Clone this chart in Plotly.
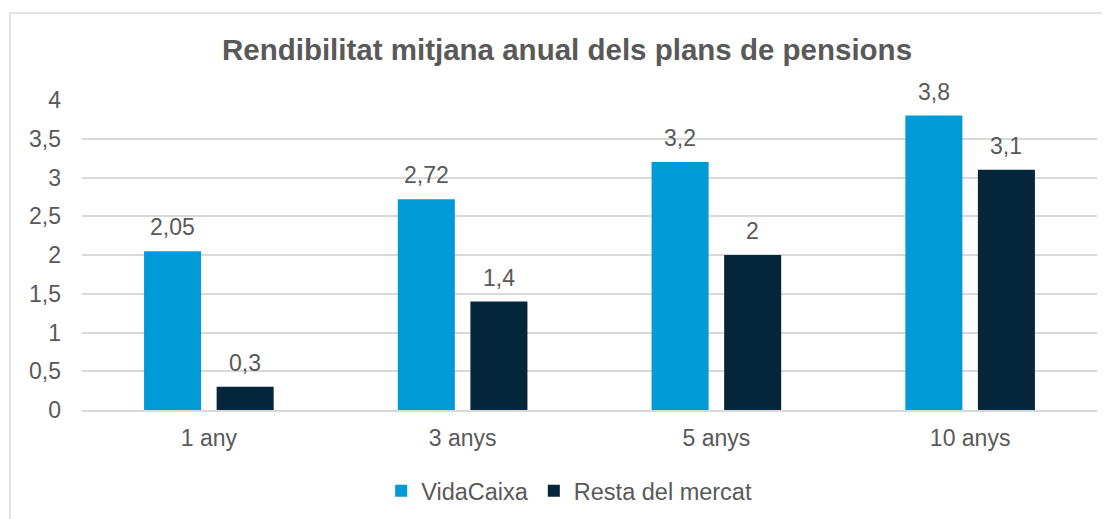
import plotly.graph_objects as go

categories = ["1 any", "3 anys", "5 anys", "10 anys"]
vidacaixa = [2.05, 2.72, 3.2, 3.8]
resta_mercat = [0.3, 1.4, 2.0, 3.1]
series_names = ["VidaCaixa", "Resta del mercat"]
title_text = "Rendibilitat mitjana anual dels plans de pensions"
y_ticks = [0, 0.5, 1, 1.5, 2, 2.5, 3, 3.5, 4]

C_VC = "#009AD9"
C_RM = "#05263B"
TXT = "#595959"
GRID = "#D9D9D9"
FONT = "Liberation Sans, Arial, sans-serif"

# page body has an 8px default margin; figure is sized/offset to compensate
W, H = 1102, 511
L, R, T, B = 74, 13, 92, 109
PW, PH = W - L - R, H - T - B


def fmt(v):
    s = ("%g" % v)
    return s.replace(".", ",")


fig = go.Figure()
fig.add_trace(go.Bar(x=categories, y=vidacaixa, name=series_names[0],
                     marker=dict(color=C_VC, line=dict(width=0))))
fig.add_trace(go.Bar(x=categories, y=resta_mercat, name=series_names[1],
                     marker=dict(color=C_RM, line=dict(width=0))))

annotations = []
for vals, shift in ((vidacaixa, -36), (resta_mercat, 36)):
    for c, v in zip(categories, vals):
        annotations.append(dict(x=c, y=v, xref="x", yref="y", text=fmt(v),
                                showarrow=False, xshift=shift, yshift=24,
                                yanchor="middle", xanchor="center",
                                font=dict(family=FONT, size=23, color=TXT)))

fig.update_layout(
    width=W, height=H,
    margin=dict(l=L, r=R, t=T, b=B, autoexpand=False),
    paper_bgcolor="white", plot_bgcolor="white",
    separators=", ",
    barmode="group", bargap=0.428, bargroupgap=0.214,
    font=dict(family=FONT, size=23, color=TXT),
    title=dict(text="<b>" + title_text + "</b>", x=559 / W, xanchor="center",
               xref="container", y=1 - 42 / H, yref="container", yanchor="middle",
               font=dict(family=FONT, size=29.5, color=TXT)),
    xaxis=dict(showgrid=False, showline=True, linecolor=GRID, linewidth=1.5,
               ticks="", tickfont=dict(size=23, color=TXT), ticklabelstandoff=7),
    yaxis=dict(range=[0, 4], tickvals=y_ticks, showgrid=True, gridcolor=GRID,
               gridwidth=1.5, zeroline=False, showline=False, ticks="",
               tickfont=dict(size=23, color=TXT), ticklabelstandoff=20),
    legend=dict(orientation="h", x=0.48, xanchor="center", y=-0.261, yanchor="middle",
                font=dict(size=23.5, color=TXT), bgcolor="rgba(0,0,0,0)"),
    annotations=annotations,
    shapes=[dict(type="rect", xref="paper", yref="paper",
                 x0=(2 - L) / PW, x1=1.05, y0=-0.5, y1=(T + PH - 5) / PH,
                 line=dict(color=GRID, width=1.5), fillcolor="rgba(0,0,0,0)", layer="below")],
    showlegend=True,
)

fig.write_html("out.html")
